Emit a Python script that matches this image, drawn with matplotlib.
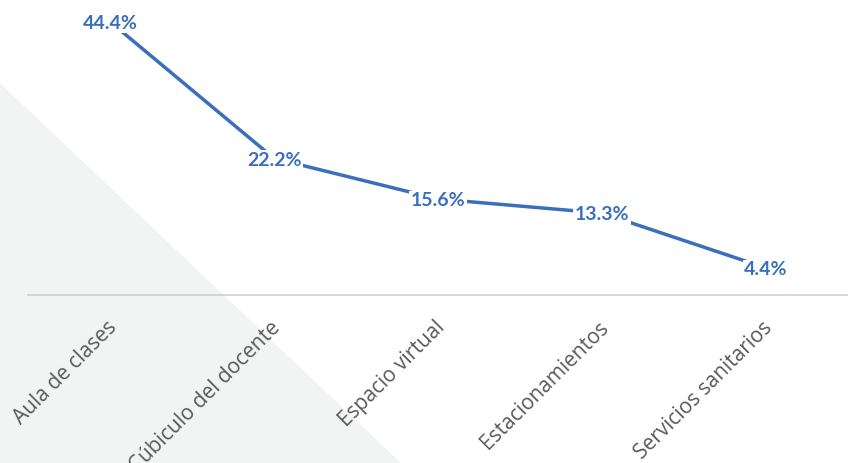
import matplotlib.pyplot as plt
import matplotlib.transforms as mtransforms
from matplotlib.patches import Polygon

categories = ["Aula de clases", "Cúbiculo del docente", "Espacio virtual",
              "Estacionamientos", "Servicios sanitarios"]
values = [44.4, 22.2, 15.6, 13.3, 4.4]
labels = ["44.4%", "22.2%", "15.6%", "13.3%", "4.4%"]

blue = "#3a6fbd"
grey_text = "#595959"

fig = plt.figure(figsize=(8.48, 4.63), dpi=100)
fig.patch.set_facecolor("white")

# light grey triangle in the background
tri = Polygon([(0, 380 / 463), (0, 0), (401 / 848, 0)], closed=True,
              transform=fig.transFigure, facecolor="#f2f3f3", edgecolor="none", zorder=-5)
fig.patches.append(tri)

ax = fig.add_axes([28 / 848, 168 / 463, 820 / 848, 277 / 463])
ax.set_facecolor("none")
x = range(len(categories))
ax.plot(x, values, color=blue, linewidth=2.5, solid_capstyle="butt", zorder=2)
for xi, v, lab in zip(x, values, labels):
    ax.text(xi, v - 0.3, lab, ha="center", va="center", fontsize=14, fontweight="bold",
            color=blue, family=["Lato", "DejaVu Sans"], zorder=3, clip_on=False,
            bbox=dict(facecolor="white", edgecolor="none", pad=1.0))

ax.set_xlim(-0.5, 4.5)
ax.set_ylim(0, 45)
ax.set_yticks([])
ax.set_xticks(list(x))
ax.set_xticklabels(categories, rotation=45, ha="right", rotation_mode="anchor",
                   fontsize=15, color=grey_text, family=["Open Sans", "DejaVu Sans"])
ax.tick_params(axis="x", length=0, pad=16)
shift = mtransforms.ScaledTranslation(-4 / 100, 0, fig.dpi_scale_trans)
for t in ax.get_xticklabels():
    t.set_transform(t.get_transform() + shift)
for s in ["top", "left", "right"]:
    ax.spines[s].set_visible(False)
ax.spines["bottom"].set_color("#d0d0d0")
ax.spines["bottom"].set_linewidth(1.2)

fig.savefig("out.png", dpi=100)
